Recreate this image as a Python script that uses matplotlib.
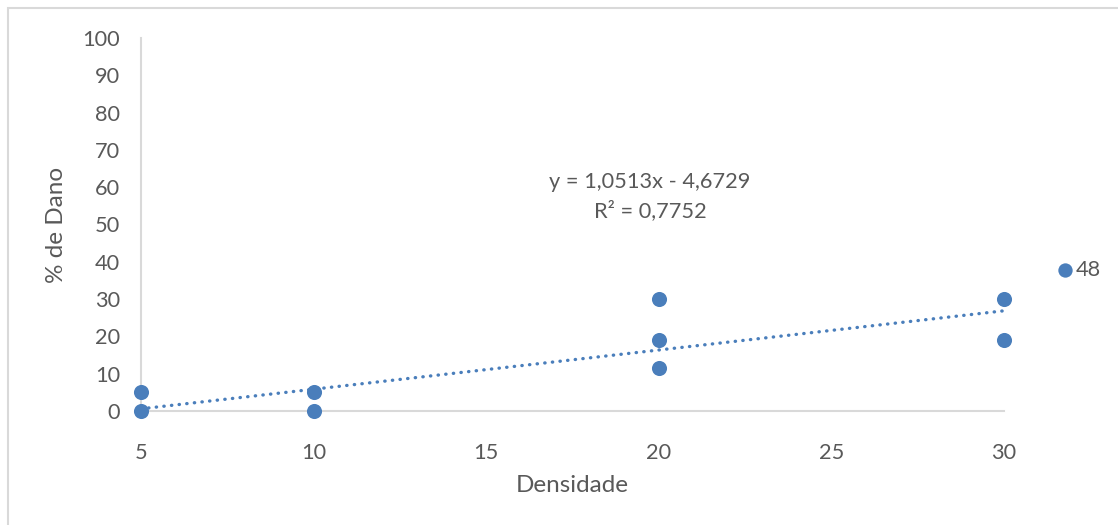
import numpy as np
import matplotlib.pyplot as plt
from matplotlib.patches import Rectangle

# data
densidade = [5, 5, 10, 10, 20, 20, 20, 30, 30]
dano = [0, 5, 0, 5, 11.5, 19, 30, 19, 30]
series_name = '48'

# linear trendline as printed on the chart
slope = 1.0513
intercept = -4.6729
r2 = 0.7752

x_ticks = [5, 10, 15, 20, 25, 30]
y_ticks = list(range(0, 101, 10))

blue = '#4a7ebb'
grey_text = '#595959'
axis_grey = '#d9d9d9'

plt.rcParams['font.family'] = ['Lato', 'DejaVu Sans']

fig = plt.figure(figsize=(11.18, 5.25), dpi=100)
ax = fig.add_axes([141 / 1118, 1 - 411 / 525, 863 / 1118, 373 / 525])

# outer chart border (only left/top visible in reference)
fig.patches.append(Rectangle((8 / 1118, -0.1), 1.2, (1 - 8 / 525) + 0.1,
                             transform=fig.transFigure, fill=False,
                             edgecolor='#d9d9d9', linewidth=1.5))

ax.scatter(densidade, dano, s=118, color=blue, zorder=3, clip_on=False,
           label=series_name, linewidths=0)

tx = np.array([min(densidade), max(densidade)])
ax.plot(tx, slope * tx + intercept, color=blue, linewidth=2.4,
        linestyle=(0, (0.1, 2.2)), dash_capstyle='round', zorder=2)

ax.text(19.75, 61.5, 'y = 1,0513x - 4,6729', ha='center', va='center',
        fontsize=15.7, color=grey_text)
ax.text(19.75, 53.6, 'R² = 0,7752', ha='center', va='center',
        fontsize=15.7, color=grey_text)

ax.set_xlim(5, 30)
ax.set_ylim(0, 100)
ax.set_xticks(x_ticks)
ax.set_yticks(y_ticks)
ax.tick_params(axis='both', length=0, labelsize=15.7, colors=grey_text)
ax.tick_params(axis='x', pad=23)
ax.tick_params(axis='y', pad=15)

for side in ['top', 'right']:
    ax.spines[side].set_visible(False)
ax.spines['left'].set_color(axis_grey)
ax.spines['bottom'].set_color(axis_grey)
ax.spines['left'].set_linewidth(1.5)
ax.spines['bottom'].set_linewidth(1.5)

ax.set_xlabel('Densidade', fontsize=17.5, color=grey_text, labelpad=9)
ax.set_ylabel('% de Dano', fontsize=17.5, color=grey_text, labelpad=11)

ax.legend(loc='center left', bbox_to_anchor=(1056 / 1118, 1 - 270 / 525),
          bbox_transform=fig.transFigure, frameon=False, fontsize=15.7,
          handlelength=0.8, handletextpad=0.1, borderpad=0, borderaxespad=0,
          labelcolor=grey_text, markerscale=0.95)

fig.savefig('out.png', dpi=100)
